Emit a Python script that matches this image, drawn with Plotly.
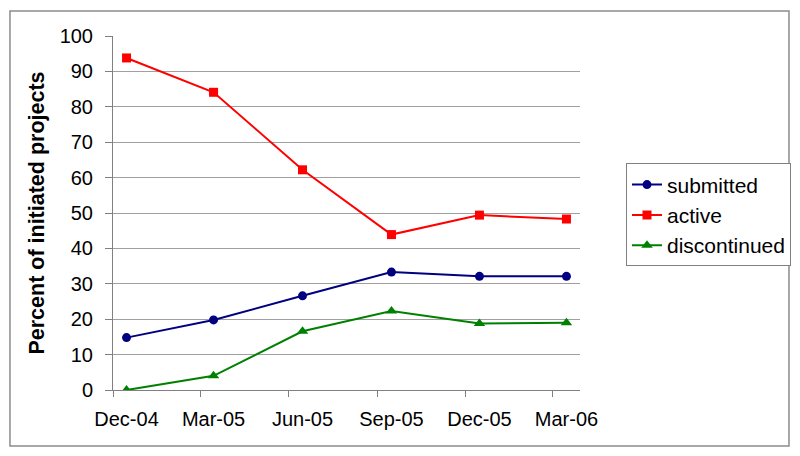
import plotly.graph_objects as go

dates = ["2004-12-15", "2005-03-15", "2005-06-15", "2005-09-15", "2005-12-15", "2006-03-15"]
submitted = [14.8, 19.8, 26.6, 33.3, 32.1, 32.1]
active = [93.8, 84.1, 62.2, 43.9, 49.4, 48.3]
discontinued = [0, 4.0, 16.6, 22.3, 18.8, 19.0]

tick_labels = ["Dec-04", "Mar-05", "Jun-05", "Sep-05", "Dec-05", "Mar-06"]
period_starts = ["2004-12-01", "2005-03-01", "2005-06-01", "2005-09-01", "2005-12-01", "2006-03-01"]

fig = go.Figure()
fig.add_trace(go.Scatter(x=dates, y=submitted, name="submitted", mode="lines+markers",
                         line=dict(color="#000080", width=2),
                         marker=dict(symbol="circle", size=9, color="#000080")))
fig.add_trace(go.Scatter(x=dates, y=active, name="active", mode="lines+markers",
                         line=dict(color="#ff0000", width=2),
                         marker=dict(symbol="square", size=9, color="#ff0000")))
fig.add_trace(go.Scatter(x=dates, y=discontinued, name="discontinued", mode="lines+markers",
                         line=dict(color="#008000", width=2),
                         marker=dict(symbol="triangle-up", size=10, color="#008000")))

# page body adds an 8px offset, so margins are shifted accordingly
fig.update_layout(
    width=800, height=456,
    paper_bgcolor="white", plot_bgcolor="white",
    font=dict(family="Liberation Sans, Arial, sans-serif", size=20, color="black"),
    margin=dict(l=105, r=228, t=28, b=74, pad=0),
    showlegend=True,
    legend=dict(x=1.0985, y=0.64, xanchor="left", yanchor="top",
                bordercolor="#808080", borderwidth=1, bgcolor="white",
                font=dict(size=21), tracegroupgap=0, itemwidth=30),
    shapes=[dict(type="rect", xref="paper", yref="paper",
                 x0=-0.2206, x1=1.4475, y0=-0.158, y1=1.0706,
                 line=dict(color="#8c8c8c", width=1.5))],
)

fig.update_xaxes(
    type="date",
    range=["2004-12-01", "2006-03-29"],
    tickvals=dates, ticktext=tick_labels, ticks="", ticklen=0,
    ticklabelstandoff=11,
    showgrid=False, showline=True, linecolor="#808080", linewidth=1,
    zeroline=False,
    minor=dict(tickvals=period_starts, ticks="outside", ticklen=6,
               tickcolor="#808080", showgrid=False),
)
fig.update_yaxes(
    range=[0, 100], tickvals=list(range(0, 101, 10)),
    ticks="outside", ticklen=7, tickcolor="#808080",
    ticklabelstandoff=8,
    showgrid=True, gridcolor="#a0a0a0", gridwidth=1,
    showline=True, linecolor="#808080", linewidth=1, zeroline=False,
    title=dict(text="<b>Percent of initiated projects</b>", standoff=9,
               font=dict(size=21.5)),
)

fig.write_html("out.html")
